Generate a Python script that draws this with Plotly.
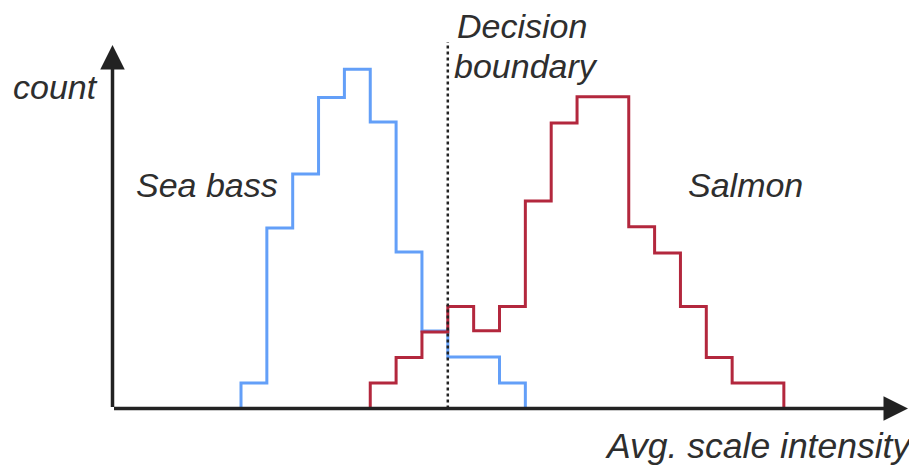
import plotly.graph_objects as go

# ---- data (counts per bin, bin index along x) ----
sea_bass_start_bin = 0
sea_bass_counts = [1.0, 7.08, 9.2, 12.2, 13.3, 11.24, 6.14, 3.04, 2.02, 2.02, 1.0]

salmon_start_bin = 5
salmon_counts = [1.0, 2.0, 3.0, 4.0, 3.05, 4.0, 8.14, 11.2, 12.23, 12.23, 7.13, 6.1, 4.0, 2.0, 1.0, 1.0]

decision_boundary_bin = 8
boundary_top = 14.37

series_labels = ["Sea bass", "Salmon"]
axis_labels = ["count", "Avg. scale intensity"]
boundary_label = ["Decision", "boundary"]

# ---- layout geometry (pixel mapping) ----
W, H = 909, 472
x0_px, bin_px = 241.0, 25.85
y0_px, unit_px = 408.5, 25.5
x_range = [-x0_px / bin_px, (W - x0_px) / bin_px]
y_range = [-(H - y0_px) / unit_px, y0_px / unit_px]


def px_x(p):
    return (p - x0_px) / bin_px


def px_y(p):
    return (y0_px - p) / unit_px


def step_xy(start, counts):
    xs = [start] + [start + i for i in range(len(counts))] + [start + len(counts)]
    ys = [0] + list(counts) + [0]
    return xs, ys


fig = go.Figure()

bx, by = step_xy(sea_bass_start_bin, sea_bass_counts)
fig.add_trace(go.Scatter(x=bx, y=by, mode="lines", line_shape="hv",
                         line=dict(color="#639ff8", width=3), name=series_labels[0],
                         showlegend=False, hoverinfo="skip"))
sx, sy = step_xy(salmon_start_bin, salmon_counts)
fig.add_trace(go.Scatter(x=sx, y=sy, mode="lines", line_shape="hv",
                         line=dict(color="#b3273d", width=3), name=series_labels[1],
                         showlegend=False, hoverinfo="skip"))

# decision boundary
fig.add_trace(go.Scatter(x=[decision_boundary_bin, decision_boundary_bin], y=[0, boundary_top],
                         mode="lines", line=dict(color="#222222", width=2.5, dash="dot"),
                         showlegend=False, hoverinfo="skip"))

axis_color = "#222222"
ax_x = px_x(112.5)
annotations = [
    # y axis arrow
    dict(x=ax_x, y=px_y(45), ax=ax_x, ay=0, xref="x", yref="y", axref="x", ayref="y",
         showarrow=True, arrowhead=2, arrowsize=1.4, arrowwidth=3.5, arrowcolor=axis_color, text=""),
    # x axis arrow
    dict(x=px_x(908), y=0, ax=ax_x, ay=0, xref="x", yref="y", axref="x", ayref="y",
         showarrow=True, arrowhead=2, arrowsize=1.4, arrowwidth=3.5, arrowcolor=axis_color, text=""),
]


def label(text, left_px, mid_px, size=34):
    return dict(x=left_px / W, y=1 - mid_px / H, xref="paper", yref="paper",
                xanchor="left", yanchor="middle", showarrow=False,
                text="<i>" + text + "</i>",
                font=dict(family="Liberation Sans, Arial, sans-serif", size=size, color="#2e2e2e"))


annotations += [
    label(axis_labels[0], 11, 87),
    label(series_labels[0], 134, 185),
    label(series_labels[1], 686, 185),
    label(boundary_label[0], 455, 26),
    label(boundary_label[1], 452, 66),
    label(axis_labels[1], 603, 446, size=35.5),
]

fig.update_layout(
    width=W, height=H, autosize=False,
    margin=dict(l=0, r=0, t=0, b=0),
    paper_bgcolor="white", plot_bgcolor="white",
    xaxis=dict(range=x_range, visible=False, fixedrange=True),
    yaxis=dict(range=y_range, visible=False, fixedrange=True),
    annotations=annotations,
)

fig.write_html("out.html", config={"displayModeBar": False},
               post_script="document.body.style.margin='0px';document.body.style.overflow='hidden';")
